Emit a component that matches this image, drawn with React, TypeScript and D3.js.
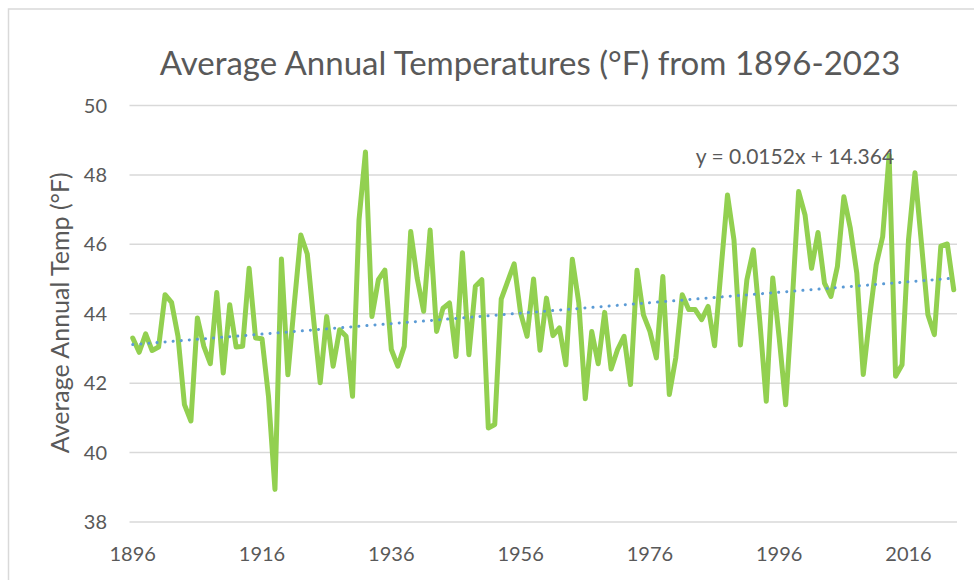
import { FC } from 'react'
import * as d3 from 'd3'

// average annual temperature (°F), 1896..2023
const startYear = 1896
const temps = [
  43.30, 42.89, 43.42, 42.94, 43.04, 44.55, 44.33, 43.35, 41.38, 40.91,
  43.88, 43.06, 42.56, 44.61, 42.29, 44.26, 43.04, 43.06, 45.31, 43.30,
  43.28, 41.62, 38.94, 45.58, 42.24, 44.30, 46.27, 45.72, 43.80, 42.01,
  43.92, 42.49, 43.54, 43.35, 41.62, 46.70, 48.66, 43.92, 44.98, 45.26,
  42.97, 42.49, 43.06, 46.37, 45.02, 44.07, 46.41, 43.49, 44.16, 44.31,
  42.77, 45.76, 42.82, 44.79, 44.98, 40.71, 40.81, 44.42, 44.93, 45.44,
  44.02, 43.35, 45.00, 42.95, 44.45, 43.37, 43.59, 42.53, 45.57, 44.31,
  41.55, 43.49, 42.56, 44.04, 42.41, 42.97, 43.35, 41.96, 45.25, 43.97,
  43.49, 42.73, 45.07, 41.67, 42.73, 44.55, 44.12, 44.12, 43.83, 44.21,
  43.08, 45.27, 47.42, 46.13, 43.10, 44.98, 45.84, 43.78, 41.48, 45.03,
  43.30, 41.38, 44.30, 47.52, 46.84, 45.31, 46.34, 44.88, 44.50, 45.36,
  47.37, 46.46, 45.17, 42.25, 43.92, 45.41, 46.22, 48.57, 42.20, 42.53,
  46.13, 48.06, 46.03, 43.97, 43.40, 45.95, 46.01, 44.69,
]
const years = temps.map((_, i) => startYear + i)
const yTicks = [38, 40, 42, 44, 46, 48, 50]
const xTickYears = [1896, 1916, 1936, 1956, 1976, 1996, 2016]
const trendLabel = 'y = 0.0152x + 14.364'

const W = 974
const H = 580
const font = 'Lato, "Open Sans", sans-serif'
const textColor = '#595959'

const App: FC = () => {
  const margin = { left: 129.5, right: 957, top: 105.5, bottom: 522 }

  const x = d3.scaleLinear().domain([0, years.length]).range([margin.left, margin.right])
  const y = d3.scaleLinear().domain([38, 50]).range([margin.bottom, margin.top])
  const px = (i: number) => x(i + 0.5)

  const line = d3.line<number>()
    .x((_, i) => px(i))
    .y(d => y(d))

  // least squares trend, as excel draws it
  const n = temps.length
  const mx = d3.mean(temps, (_, i) => i) || 0
  const my = d3.mean(temps) || 0
  const slope = d3.sum(temps, (d, i) => (i - mx) * (d - my)) / d3.sum(temps, (_, i) => (i - mx) ** 2)
  const intercept = my - slope * mx

  return (
    <svg width={W} height={H} style={{ position: 'absolute', left: 0, top: 0, background: '#fff' }}>
      <rect x={8.5} y={9} width={W} height={H} fill="#fff" stroke="#D9D9D9" strokeWidth={1.5} />

      <text x={530} y={75} textAnchor="middle" fontFamily={font} fontSize={33} fill={textColor}>
        Average Annual Temperatures (°F) from 1896-2023
      </text>

      {yTicks.map(t => (
        <g key={t}>
          <line x1={margin.left} x2={margin.right} y1={y(t)} y2={y(t)} stroke="#D9D9D9" strokeWidth={1.5} />
          <text x={107} y={y(t)} dy="0.35em" textAnchor="end" fontFamily={font} fontSize={20} fill={textColor}>
            {t}
          </text>
        </g>
      ))}

      {xTickYears.map(yr => (
        <text key={yr} x={px(yr - startYear)} y={561} textAnchor="middle" fontFamily={font} fontSize={20} fill={textColor}>
          {yr}
        </text>
      ))}

      <text
        transform={`translate(69,${(margin.top + margin.bottom) / 2 - 1}) rotate(-90)`}
        textAnchor="middle"
        fontFamily={font}
        fontSize={25}
        fill={textColor}
      >
        Average Annual Temp (°F)
      </text>

      <path d={line(temps) || ''} fill="none" stroke="#92D050" strokeWidth={5} strokeLinejoin="round" strokeLinecap="round" />

      <line
        x1={px(0)}
        x2={px(n - 1)}
        y1={y(intercept)}
        y2={y(intercept + slope * (n - 1))}
        stroke="#5B9BD5"
        strokeWidth={3}
        strokeLinecap="round"
        strokeDasharray="0.1 8"
      />

      <text x={795} y={164} textAnchor="middle" fontFamily={font} fontSize={21} fill={textColor}>
        {trendLabel}
      </text>
    </svg>
  )
}

export default App
